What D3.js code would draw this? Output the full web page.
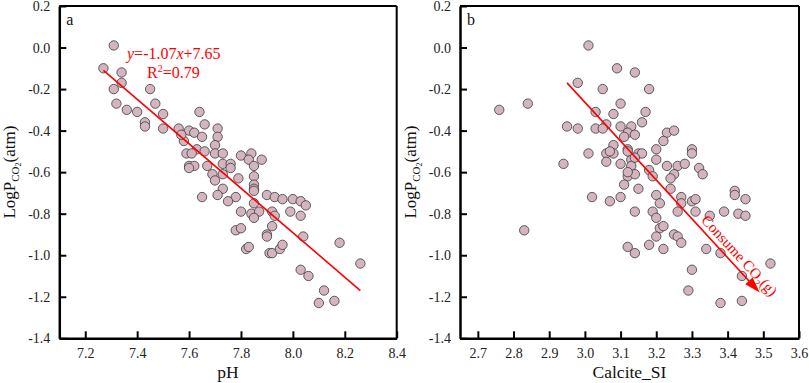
<!DOCTYPE html>
<html>
<head>
<meta charset="utf-8">
<script src="https://cdn.jsdelivr.net/npm/d3@7/dist/d3.min.js"></script>
<style>
  html, body { margin: 0; padding: 0; background: #fff; }
  #container { width: 809px; height: 383px; }
  text { font-family: "Liberation Serif", "Times New Roman", serif; }
</style>
</head>
<body>
<div id="container"></div>
<script>
// ---- panel a : pH vs LogPCO2 ----
const pHValues = [7.31, 7.27, 7.34, 7.34, 7.31, 7.45, 7.32, 7.36, 7.40, 7.47,
  7.50, 7.43, 7.43, 7.50, 7.64, 7.66, 7.56, 7.60, 7.62, 7.65,
  7.71, 7.71, 7.58, 7.63, 7.59, 7.61, 7.66, 7.70, 7.70, 7.73,
  7.60, 7.62, 7.60, 7.67, 7.69, 7.73, 7.76, 7.76, 7.80, 7.84,
  7.83, 7.88, 7.85, 7.79, 7.85, 7.85, 7.85, 7.85, 7.70, 7.73,
  7.73, 7.71, 7.78, 7.75, 7.65, 7.90, 7.93, 7.96, 7.85, 8.00,
  8.03, 8.05, 7.80, 7.84, 7.87, 7.85, 7.92, 7.93, 7.99, 8.03,
  7.78, 7.80, 7.92, 7.90, 7.90, 8.04, 7.82, 7.83, 7.91, 7.92,
  7.95, 7.96, 8.18, 8.26, 8.03, 8.06, 8.12, 8.10, 8.16, 7.57];
const pco2A = [0.01, -0.10, -0.12, -0.17, -0.20, -0.20, -0.27, -0.30, -0.31, -0.27,
  -0.32, -0.36, -0.38, -0.39, -0.31, -0.37, -0.39, -0.40, -0.41, -0.43,
  -0.39, -0.43, -0.45, -0.49, -0.51, -0.51, -0.50, -0.47, -0.51, -0.51,
  -0.57, -0.57, -0.58, -0.57, -0.61, -0.56, -0.56, -0.58, -0.52, -0.51,
  -0.54, -0.54, -0.57, -0.63, -0.62, -0.66, -0.68, -0.69, -0.64, -0.61,
  -0.68, -0.71, -0.72, -0.74, -0.72, -0.71, -0.72, -0.73, -0.75, -0.73,
  -0.74, -0.76, -0.79, -0.80, -0.79, -0.82, -0.79, -0.81, -0.79, -0.81,
  -0.88, -0.87, -0.86, -0.90, -0.91, -0.91, -0.97, -0.96, -0.99, -0.99,
  -0.97, -0.95, -0.94, -1.04, -1.07, -1.10, -1.17, -1.23, -1.22, -0.42];
const fitLineA = [[7.27, -0.11], [8.26, -1.17]];

// ---- panel b : Calcite_SI vs LogPCO2 ----
const calciteSI = [3.01, 3.09, 3.14, 2.98, 3.05, 3.18, 2.76, 2.84, 3.10, 3.17,
  3.03, 3.08, 2.95, 2.98, 3.03, 3.06, 3.05, 3.10, 3.13, 3.12,
  3.14, 3.11, 3.16, 3.23, 3.22, 3.08, 3.01, 3.06, 3.08, 3.12,
  3.15, 3.16, 3.20, 3.06, 3.10, 3.13, 3.13, 3.20, 3.23, 3.18,
  3.19, 2.94, 3.12, 3.14, 3.11, 3.15, 3.02, 3.07, 3.10, 3.20,
  3.21, 3.25, 3.30, 3.30, 3.26, 3.28, 3.32, 3.33, 3.25, 3.24,
  3.24, 3.27, 3.30, 3.31, 3.27, 3.26, 3.31, 3.14, 3.19, 3.20,
  3.21, 3.22, 3.20, 3.25, 3.26, 3.27, 3.18, 3.22, 3.12, 3.14,
  3.35, 3.39, 3.42, 3.42, 3.45, 3.43, 3.45, 3.34, 3.38, 3.52,
  3.44, 3.30, 3.29, 3.38, 3.44, 2.83, 3.12, 3.07, 3.14, 3.12];
const pco2B = [0.01, -0.10, -0.12, -0.17, -0.20, -0.20, -0.30, -0.27, -0.27, -0.31,
  -0.31, -0.32, -0.38, -0.39, -0.39, -0.37, -0.39, -0.38, -0.38, -0.41,
  -0.42, -0.43, -0.36, -0.41, -0.45, -0.47, -0.51, -0.51, -0.51, -0.49,
  -0.51, -0.51, -0.49, -0.55, -0.56, -0.54, -0.57, -0.54, -0.57, -0.59,
  -0.62, -0.56, -0.62, -0.61, -0.66, -0.68, -0.72, -0.74, -0.72, -0.71,
  -0.75, -0.40, -0.49, -0.51, -0.57, -0.56, -0.58, -0.61, -0.61, -0.63,
  -0.68, -0.72, -0.74, -0.73, -0.75, -0.79, -0.79, -0.79, -0.79, -0.82,
  -0.87, -0.86, -0.91, -0.90, -0.91, -0.94, -0.95, -0.97, -0.96, -0.99,
  -0.81, -0.79, -0.69, -0.71, -0.73, -0.80, -0.81, -0.97, -0.99, -1.04,
  -1.10, -1.07, -1.17, -1.23, -1.22, -0.88, -0.50, -0.50, -0.53, -0.60];
const arrowB = [[2.95, -0.17], [3.49, -1.18]];

// ---- axes ----
const yTicks = [0.2, 0.0, -0.2, -0.4, -0.6, -0.8, -1.0, -1.2, -1.4];
const yTickLabels = ["0.2", "0.0", "-0.2", "-0.4", "-0.6", "-0.8", "-1.0", "-1.2", "-1.4"];
const xTicksA = [7.2, 7.4, 7.6, 7.8, 8.0, 8.2, 8.4];
const xTickLabelsA = ["7.2", "7.4", "7.6", "7.8", "8.0", "8.2", "8.4"];
const xTicksB = [2.7, 2.8, 2.9, 3.0, 3.1, 3.2, 3.3, 3.4, 3.5, 3.6];
const xTickLabelsB = ["2.7", "2.8", "2.9", "3.0", "3.1", "3.2", "3.3", "3.4", "3.5", "3.6"];

const svg = d3.select("#container")
  .append("svg")
  .attr("width", 809)
  .attr("height", 383);

const y = d3.scaleLinear().domain([-1.4, 0.2]).range([338.3, 6]);
const red = "#ff0000";

function drawPanel(opts) {
  const x = d3.scaleLinear().domain(opts.xDomain).range(opts.xRange);
  const g = svg.append("g");
  const [x0, x1] = opts.xRange;
  const [y0, y1] = y.range();

  // frame: top/right thinner
  g.append("line").attr("x1", x0).attr("x2", x1).attr("y1", y1).attr("y2", y1)
    .attr("stroke", "#000").attr("stroke-width", 2);
  g.append("line").attr("x1", x1).attr("x2", x1).attr("y1", y1).attr("y2", y0)
    .attr("stroke", "#000").attr("stroke-width", 2);

  // x axis, ticks pointing inward
  const xAxis = g.append("g")
    .attr("transform", `translate(0,${y0})`)
    .call(d3.axisBottom(x).tickValues(opts.xTicks).tickSizeInner(-7).tickSizeOuter(0)
      .tickPadding(10).tickFormat((d, i) => opts.xTickLabels[i]));
  xAxis.select(".domain").attr("stroke-width", 2.5);
  xAxis.selectAll(".tick line").attr("stroke-width", 2);
  xAxis.selectAll("text")
    .attr("font-family", "Liberation Serif").attr("font-size", 14).attr("fill", "#222");

  const yAxis = g.append("g")
    .attr("transform", `translate(${x0},0)`)
    .call(d3.axisLeft(y).tickValues(yTicks).tickSizeInner(-7).tickSizeOuter(0)
      .tickPadding(9).tickFormat((d, i) => yTickLabels[i]));
  yAxis.select(".domain").attr("stroke-width", 2.5);
  yAxis.selectAll(".tick line").attr("stroke-width", 2);
  yAxis.selectAll("text")
    .attr("font-family", "Liberation Serif").attr("font-size", 14).attr("fill", "#222");

  // points
  g.append("g").selectAll("circle")
    .data(opts.xs.map((v, i) => [v, opts.ys[i]]))
    .enter()
    .append("circle")
    .attr("cx", d => x(d[0]))
    .attr("cy", d => y(d[1]))
    .attr("r", 4.7)
    .attr("fill", "#d4b4bf")
    .attr("stroke", "#3a3a3a")
    .attr("stroke-width", 0.8);

  // panel letter
  g.append("text")
    .attr("x", x0 + 7).attr("y", 25)
    .attr("font-size", 16).attr("fill", "#111")
    .text(opts.letter);

  // x title
  g.append("text")
    .attr("x", (x0 + x1) / 2).attr("y", 378)
    .attr("text-anchor", "middle")
    .attr("font-size", 17.5).attr("fill", "#111")
    .text(opts.xTitle);

  // y title: LogP_CO2(atm)
  const yt = g.append("text")
    .attr("transform", `translate(${x0 - 44},${(y0 + y1) / 2}) rotate(-90)`)
    .attr("text-anchor", "middle")
    .attr("font-size", 17).attr("fill", "#111");
  yt.append("tspan").text("LogP");
  yt.append("tspan").attr("font-size", 11).attr("dy", 4).text("CO");
  yt.append("tspan").attr("font-size", 8).attr("dy", 2).text("2");
  yt.append("tspan").attr("dy", -6).text("(atm)");

  return {g, x};
}

// panel a
const pa = drawPanel({
  xDomain: [7.1, 8.4], xRange: [59.3, 396.7],
  xTicks: xTicksA, xTickLabels: xTickLabelsA,
  xs: pHValues, ys: pco2A, letter: "a", xTitle: "pH"
});

pa.g.append("line")
  .attr("x1", pa.x(fitLineA[0][0])).attr("y1", y(fitLineA[0][1]))
  .attr("x2", pa.x(fitLineA[1][0])).attr("y2", y(fitLineA[1][1]))
  .attr("stroke", red).attr("stroke-width", 1.6);

const eq = pa.g.append("text")
  .attr("x", 127).attr("y", 59)
  .attr("font-size", 16).attr("fill", red);
eq.append("tspan").attr("font-style", "italic").text("y");
eq.append("tspan").text("=-1.07");
eq.append("tspan").attr("font-style", "italic").text("x");
eq.append("tspan").text("+7.65");

const r2 = pa.g.append("text")
  .attr("x", 147).attr("y", 78)
  .attr("font-size", 16).attr("fill", red);
r2.append("tspan").text("R");
r2.append("tspan").attr("font-size", 10).attr("dy", -6).text("2");
r2.append("tspan").attr("dy", 6).text("=0.79");

// panel b
const pb = drawPanel({
  xDomain: [2.65, 3.6], xRange: [460, 799],
  xTicks: xTicksB, xTickLabels: xTickLabelsB,
  xs: calciteSI, ys: pco2B, letter: "b", xTitle: "Calcite_SI"
});

const ax0 = pb.x(arrowB[0][0]), ay0 = y(arrowB[0][1]);
const ax1 = pb.x(arrowB[1][0]), ay1 = y(arrowB[1][1]);
const len = Math.hypot(ax1 - ax0, ay1 - ay0);
const ux = (ax1 - ax0) / len, uy = (ay1 - ay0) / len;
const head = 16, halfW = 5;

pb.g.append("line")
  .attr("x1", ax0).attr("y1", ay0)
  .attr("x2", ax1 - ux * head * 0.8).attr("y2", ay1 - uy * head * 0.8)
  .attr("stroke", red).attr("stroke-width", 1.6);

pb.g.append("path")
  .attr("d", `M${ax1},${ay1}L${ax1 - ux * head - uy * halfW},${ay1 - uy * head + ux * halfW}` +
    `L${ax1 - ux * head + uy * halfW},${ay1 - uy * head - ux * halfW}Z`)
  .attr("fill", red);

// label along the arrow, on its upper-right side
const angle = Math.atan2(ay1 - ay0, ax1 - ax0) * 180 / Math.PI;
const along = 192, off = 5;
const tx = ax0 + ux * along + uy * off, ty = ay0 + uy * along - ux * off;
const ct = pb.g.append("text")
  .attr("transform", `translate(${tx},${ty}) rotate(${angle})`)
  .attr("font-size", 15).attr("fill", red);
ct.append("tspan").text("Consume CO");
ct.append("tspan").attr("font-size", 10).attr("dy", 4).text("2");
ct.append("tspan").attr("dy", -4).text("(g)");
</script>
</body>
</html>
